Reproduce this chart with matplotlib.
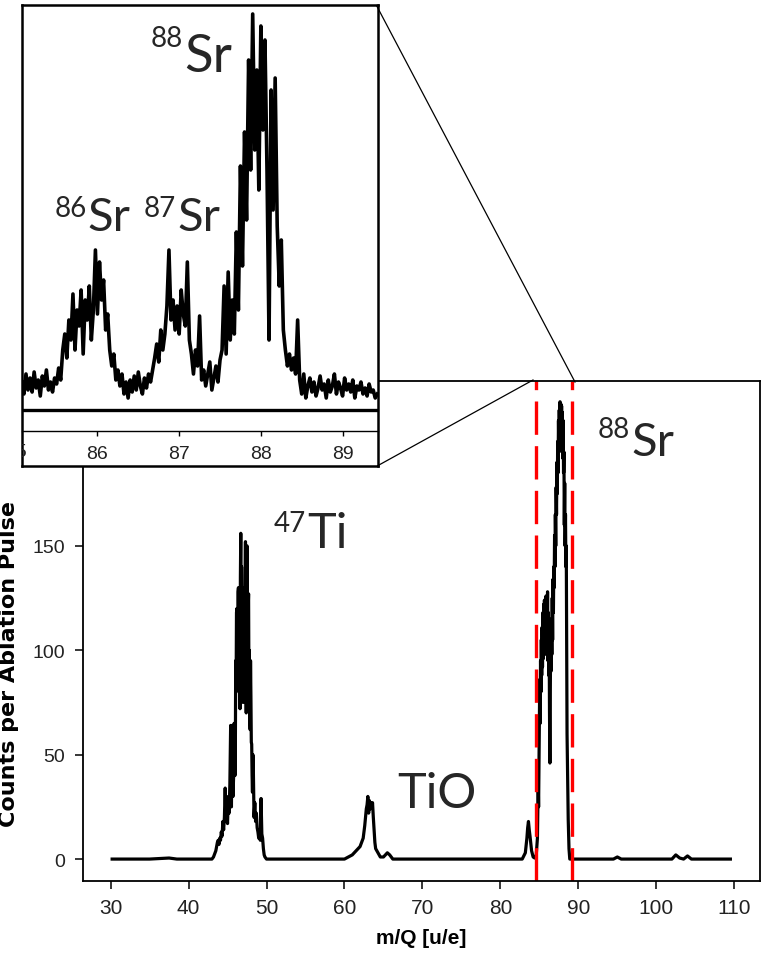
import numpy as np
import matplotlib
matplotlib.use("Agg")
import matplotlib.pyplot as plt
import matplotlib.transforms as mtransforms
from matplotlib.lines import Line2D

SANS = ["Liberation Sans", "DejaVu Sans"]
LBL = ["Lato", "DejaVu Sans"]
plt.rcParams["font.family"] = SANS

# ---------------- data ----------------
# main spectrum, m/Q [u/e] vs counts per ablation pulse
base1_mz = [30.2, 33.0, 35.0, 37.5, 38.5, 40.0, 42.5]
base1_counts = [0, 0, 0, 0.5, 0, 0, 0]

ti_left_mz = list(np.round(np.linspace(43.0, 45.7, 28), 2))
ti_left_counts = [0, 0.5, 1, 2, 3, 4, 6, 8, 9, 7,
                  10, 9, 13, 11, 18, 14, 20, 34, 18, 22,
                  17, 30, 22, 36, 64, 25, 64, 30]
ti_core_mz = list(np.round(np.linspace(45.8, 48.3, 51), 2))
ti_core_counts = [42, 65, 58, 40, 50, 95, 80, 118, 120, 85,
                  95, 128, 130, 90, 110, 122, 72, 135, 156, 100,
                  140, 118, 100, 130, 75, 110, 125, 80, 85, 128,
                  152, 95, 70, 120, 150, 100, 90, 120, 127, 80,
                  100, 70, 62, 95, 78, 56, 55, 40, 32, 50,
                  46]
ti_right_mz = list(np.round(np.linspace(48.4, 50.0, 17), 2))
ti_right_counts = [20, 27, 18, 22, 15, 13, 10, 14, 9, 29, 12, 10, 5, 2, 1, 0.5, 0]

base2_mz = [50.3, 55.0, 58.0]
base2_counts = [0, 0, 0]

tio_mz = [60.0, 60.5, 61.0, 61.5, 62.0, 62.2, 62.4, 62.6, 62.7, 62.8, 62.9,
          63.0, 63.1, 63.2, 63.3, 63.4, 63.5, 63.6, 63.7, 63.8, 63.9,
          64.0, 64.3, 64.6, 65.0, 65.5, 65.8, 66.2]
tio_counts = [0, 1, 2, 4, 6, 8, 10, 16, 20, 24, 26,
              30, 22, 28, 24, 27, 25, 27, 20, 14, 8,
              5, 3, 1, 1, 3, 2, 0]

base3_mz = [70.0, 75.0, 80.0]
base3_counts = [0, 0, 0]

pre_mz = [82.8, 83.2, 83.4, 83.5, 83.6, 83.7, 83.8, 84.0, 84.2, 84.4, 84.6, 84.75]
pre_counts = [0, 3, 10, 15, 18, 14, 11, 4, 1, 0.5, 2, 10]

sr_mz = list(np.round(np.linspace(84.85, 88.6, 76), 2))
sr_counts = [37, 25, 45, 60, 86, 65, 95, 80, 105, 88,
             111, 92, 118, 96, 122, 100, 124, 98, 120, 105,
             126, 100, 125, 108, 128, 95, 118, 88, 112, 70,
             46, 75, 110, 90, 115, 98, 125, 105, 134, 118,
             140, 130, 155, 140, 165, 150, 178, 165, 190, 175,
             200, 185, 210, 195, 215, 200, 219, 205, 218, 200,
             217, 195, 214, 192, 210, 185, 195, 160, 180, 150,
             165, 140, 150, 100, 60, 45]

tail_mz = [88.7, 88.8, 88.9, 89.5, 94.5, 95.0, 95.5, 102.0, 102.5, 103.0, 103.5,
           104.0, 104.5, 109.5]
tail_counts = [19, 5, 0, 0, 0, 1, 0, 0, 2, 0.5, 0, 1.5, 0, 0]

mz = (base1_mz + ti_left_mz + ti_core_mz + ti_right_mz + base2_mz + tio_mz
      + base3_mz + pre_mz + sr_mz + tail_mz)
counts = (base1_counts + ti_left_counts + ti_core_counts + ti_right_counts
          + base2_counts + tio_counts + base3_counts + pre_counts + sr_counts
          + tail_counts)

# zoom window marked by the red dashed lines
window = [84.56, 89.22]

# inset spectrum (Sr isotopes), grid of 0.025 u starting at 85.075
inset_counts = [14, 8, 18, 10, 16, 9, 19, 11, 15, 7, 17, 12, 20, 10, 14, 9, 16, 13, 21, 15,
                30, 38, 26, 45, 35, 58,
                30, 50, 42, 60, 28, 55, 45, 62, 35, 50, 80, 48,
                74, 55, 65, 40, 48, 30,
                22, 28, 15, 20, 12, 18, 8, 14,
                6, 15, 9, 17, 10, 19, 12, 8, 16, 11, 18, 14, 20,
                26, 33, 24, 40, 30, 38, 52,
                80, 45, 55, 40, 52, 38, 60, 48, 42, 74,
                35, 28, 18, 30, 22, 47,
                15, 20, 12, 18, 24, 10, 16, 22, 14,
                25, 30, 62, 28, 69, 35,
                55, 38, 89, 50, 122, 72,
                139, 95, 175, 120,
                198, 130, 170, 110, 192, 140,
                185, 120, 35, 160, 100, 166,
                92, 62, 85, 40,
                30, 22, 28, 20, 26, 18, 45,
                15, 8, 18, 6, 12, 16, 9, 14, 7, 11, 17, 10, 13, 6, 15, 9, 12, 18, 8, 14,
                11, 7, 16, 10, 13, 9, 15, 6, 12, 10, 14, 8, 11, 7, 13, 9, 10, 6, 8]
inset_start, inset_step = 85.075, 0.025
inset_mz = inset_start + inset_step * np.arange(len(inset_counts))

x_ticks = [30, 40, 50, 60, 70, 80, 90, 100, 110]
y_ticks = [0, 50, 100, 150]
inset_ticks = [86, 87, 88, 89]

# ---------------- figure ----------------
W, H = 768, 954
fig = plt.figure(figsize=(W / 100, H / 100), dpi=100)
fig.patch.set_facecolor("white")


def rect(l, t, r, b):
    return [l / W, 1 - b / H, (r - l) / W, (b - t) / H]


def fpt(x, y):
    return (x / W, 1 - y / H)


TXT = "#262626"
TICKC = "#222222"

# main axes
ax = fig.add_axes(rect(83.3, 382.3, 760, 882))
ax.set_zorder(1)
ax.plot(mz, counts, color="black", lw=2.3, solid_joinstyle="round")
for v in window:
    ax.axvline(v, color="#ff0000", lw=2.4, dashes=(10, 3.4))
ax.set_xlim(26.5, 113.3)
ax.set_ylim(-10.5, 228.8)
ax.set_xticks(x_ticks)
ax.set_yticks(y_ticks)
for s in ax.spines.values():
    s.set_linewidth(1.3)
ax.tick_params(axis="both", direction="out", length=6, width=1.1, labelcolor=TICKC)
ax.tick_params(axis="x", labelsize=15, pad=6.5)
ax.tick_params(axis="y", labelsize=14, pad=7)
ax.set_xlabel("m/Q [u/e]", fontsize=15, fontweight="bold", va="top")
ax.set_ylabel("Counts per Ablation Pulse", fontsize=16, fontweight="bold",
              family=["DejaVu Sans"])
ax.xaxis.set_label_coords(0.5, (882 - 929) / 499.7, transform=ax.transAxes)
ax.yaxis.set_label_coords((19 - 83.3) / 676.7, 1 - (664 - 382.3) / 499.7,
                          transform=ax.transAxes)

# inset frame
ins_xlim = (85.08, 89.43)
frame = fig.add_axes(rect(22.3, 5.7, 377.7, 466.7))
frame.set_zorder(3)
frame.set_facecolor("white")
frame.set_xticks([])
frame.set_yticks([])
frame.set_xlim(*ins_xlim)
frame.set_ylim(0, 1)
for s in frame.spines.values():
    s.set_linewidth(1.8)
btrans = mtransforms.blended_transform_factory(frame.transData, frame.transAxes)
frame.text(85, (466.7 - 453) / 461.0, "85", transform=btrans, ha="center", va="center",
           fontsize=14, color=TICKC, clip_on=True)

# inset data axes
ins = fig.add_axes(rect(22.3, 5.7, 377.7, 432))
ins.set_zorder(4)
ins.patch.set_alpha(0)
for k in ("top", "left", "right"):
    ins.spines[k].set_visible(False)
ins.spines["bottom"].set_linewidth(1.0)
ins.axhline(0, color="black", lw=2.4)
ins.plot(inset_mz, inset_counts, color="black", lw=2.6, solid_joinstyle="round")
ins.set_xlim(*ins_xlim)
ins.set_ylim(-10.5, 202.65)
ins.set_yticks([])
ins.set_xticks(inset_ticks)
ins.tick_params(axis="x", direction="out", length=3.8, width=1.0, labelsize=14, pad=6,
                labelcolor=TICKC)

# connector lines
for p0, p1 in [((376.5, 6.5), (575, 383)), ((377.7, 466.7), (533, 381))]:
    ln = Line2D([p0[0] / W, p1[0] / W], [1 - p0[1] / H, 1 - p1[1] / H],
                transform=fig.transFigure, color="black", lw=0.9, zorder=6)
    fig.add_artist(ln)


# isotope labels
def iso(xsplit, base_sup, base_main, sup, main, size_sup, size_main):
    x, y = fpt(xsplit - 1, base_sup)
    fig.text(x, y, sup, ha="right", va="baseline", fontsize=size_sup,
             family=LBL, color=TXT, zorder=7)
    x, y = fpt(xsplit, base_main)
    fig.text(x, y, main, ha="left", va="baseline", fontsize=size_main,
             family=LBL, color=TXT, zorder=7)


iso(307, 532, 548, "47", "Ti", 20, 35)
iso(631, 438, 456, "88", "Sr", 20, 34)
iso(184, 47, 72, "88", "Sr", 20, 38)
iso(87.5, 217, 231, "86", "Sr", 20, 34)
iso(177, 217, 231, "87", "Sr", 20, 34)
x, y = fpt(397, 808)
fig.text(x, y, "TiO", ha="left", va="baseline", fontsize=35, family=LBL, color=TXT, zorder=7)

fig.savefig("out.png", dpi=100)
